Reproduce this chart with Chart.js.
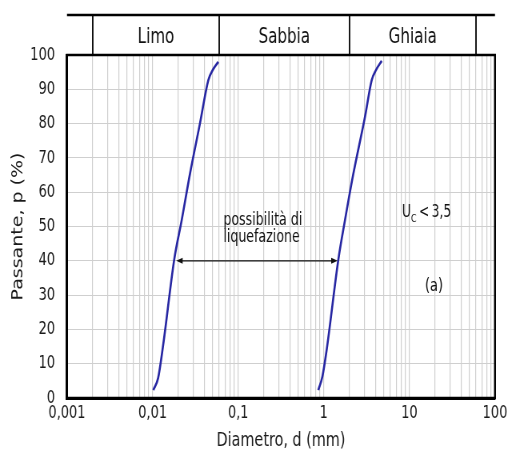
<!DOCTYPE html>
<html><head><meta charset="utf-8">
<script src="https://cdn.jsdelivr.net/npm/chart.js@4.4.1/dist/chart.umd.min.js"></script>
<style>
html,body{margin:0;padding:0;background:#fff;overflow:hidden;width:507px;height:453px}
#c{display:block;width:634px;height:453px;transform:scaleX(0.8);transform-origin:0 0}
</style>
</head><body>
<canvas id="c" width="634" height="453"></canvas>
<script>
// ---- data ----
const curveA_d = [0.0102, 0.0116, 0.0133, 0.0179, 0.0219, 0.0274, 0.0358, 0.0448, 0.0504, 0.0586];
const curveA_p = [2.3, 5.8, 15.5, 40.4, 51.9, 65.5, 80.1, 92.7, 95.6, 98];
const curveB_d = [0.863, 0.962, 1.08, 1.48, 1.77, 2.2, 3.03, 3.63, 4.07, 4.75];
const curveB_p = [2.3, 6.2, 14, 40.4, 51.9, 65, 82, 92.7, 95.6, 98.3];
const arrowD = [0.0189, 1.45];
const arrowP = 40;
const xDecades = [0.001, 0.01, 0.1, 1, 10, 100];
const xLabels = ['0,001', '0,01', '0,1', '1', '10', '100'];
const yTicks = [0, 10, 20, 30, 40, 50, 60, 70, 80, 90, 100];
const classBounds = [0.002, 0.06, 2, 60];
const classNames = ['Limo', 'Sabbia', 'Ghiaia'];
const noteText = ['possibilità di', 'liquefazione'];
const noteAt = [0.067, 49.5];
const ucAt = [8.2, 54];
const tagText = '(a)';
const tagAt = [19.4, 32.7];

const SQ = 0.8; // horizontal squeeze of the whole picture (CSS)
const FONT = "'DejaVu Sans Condensed', 'DejaVu Sans', sans-serif";
const WIDE = "'DejaVu Sans', sans-serif";

const gridValues = [];
for (let k = 0; k < xDecades.length; k++) {
  const d = xDecades[k];
  const n = (k === xDecades.length - 1) ? 1 : 9;
  for (let m = 1; m <= n; m++) gridValues.push(Number((m * d).toPrecision(6)));
}
const toXY = (ds, ps) => ds.map((d, i) => ({ x: d, y: ps[i] }));

const decorations = {
  id: 'decorations',
  afterDraw(chart) {
    const ctx = chart.ctx, xs = chart.scales.x, ys = chart.scales.y, a = chart.chartArea;
    ctx.save();
    // frame
    ctx.strokeStyle = '#000';
    ctx.lineWidth = 2.5;
    ctx.strokeRect(a.left, a.top, a.right - a.left, a.bottom - a.top);
    // header band
    const hTop = 15;
    ctx.beginPath(); ctx.moveTo(a.left, hTop); ctx.lineTo(a.right, hTop); ctx.stroke();
    ctx.lineWidth = 1.8;
    classBounds.forEach(b => {
      const px = xs.getPixelForValue(b);
      ctx.beginPath(); ctx.moveTo(px, hTop); ctx.lineTo(px, a.top); ctx.stroke();
    });
    ctx.fillStyle = '#111';
    ctx.font = "21px " + FONT;
    ctx.textAlign = 'center'; ctx.textBaseline = 'middle';
    classNames.forEach((name, i) => {
      const mid = Math.sqrt(classBounds[i] * classBounds[i + 1]);
      ctx.fillText(name, xs.getPixelForValue(mid), (hTop + a.top) / 2 + 3);
    });
    // arrow
    const y = ys.getPixelForValue(arrowP);
    const x1 = xs.getPixelForValue(arrowD[0]), x2 = xs.getPixelForValue(arrowD[1]);
    ctx.strokeStyle = '#111'; ctx.lineWidth = 1.2;
    ctx.beginPath(); ctx.moveTo(x1 + 5, y); ctx.lineTo(x2 - 5, y); ctx.stroke();
    ctx.fillStyle = '#111';
    ctx.beginPath(); ctx.moveTo(x1, y); ctx.lineTo(x1 + 8, y - 3); ctx.lineTo(x1 + 8, y + 3); ctx.closePath(); ctx.fill();
    ctx.beginPath(); ctx.moveTo(x2, y); ctx.lineTo(x2 - 8, y - 3); ctx.lineTo(x2 - 8, y + 3); ctx.closePath(); ctx.fill();
    // notes
    ctx.font = "17.5px " + FONT;
    ctx.textAlign = 'left'; ctx.textBaseline = 'middle';
    const nx = xs.getPixelForValue(noteAt[0]), ny = ys.getPixelForValue(noteAt[1]);
    ctx.fillText(noteText[0], nx, ny - 8);
    ctx.fillText(noteText[1], nx, ny + 9);
    // Uc < 3,5
    const ux = xs.getPixelForValue(ucAt[0]), uy = ys.getPixelForValue(ucAt[1]);
    ctx.font = "17px " + FONT;
    ctx.fillText('U', ux, uy);
    let w = ctx.measureText('U').width;
    ctx.font = "11px " + FONT;
    ctx.fillText('C', ux + w, uy + 6);
    w += ctx.measureText('C').width;
    ctx.font = "17px " + FONT;
    ctx.fillText('\u2009<\u20093,5', ux + w, uy);
    // (a)
    ctx.textAlign = 'center';
    ctx.font = "18px " + FONT;
    ctx.fillText(tagText, xs.getPixelForValue(tagAt[0]), ys.getPixelForValue(tagAt[1]));
    ctx.restore();
  }
};

const leftW = 67 / SQ;           // y-axis block width (internal px)
const rightPad = 634 - 495 / SQ; // space right of plot (internal px)

new Chart(document.getElementById('c'), {
  type: 'scatter',
  data: {
    datasets: [
      { data: toXY(curveA_d, curveA_p), showLine: true, borderColor: '#2626a2', borderWidth: 2.6, pointRadius: 0, cubicInterpolationMode: 'monotone' },
      { data: toXY(curveB_d, curveB_p), showLine: true, borderColor: '#2626a2', borderWidth: 2.6, pointRadius: 0, cubicInterpolationMode: 'monotone' }
    ]
  },
  options: {
    responsive: false, animation: false, devicePixelRatio: 1,
    layout: { padding: { top: 55, right: rightPad, left: 0, bottom: 0 } },
    plugins: { legend: { display: false }, tooltip: { enabled: false } },
    scales: {
      x: {
        type: 'logarithmic', min: 0.001, max: 100,
        afterBuildTicks: s => { s.ticks = gridValues.map(v => ({ value: v })); },
        afterFit: s => { s.height = 55; s.paddingLeft = 0; s.paddingRight = 0; },
        ticks: {
          autoSkip: false, maxRotation: 0, minRotation: 0, padding: 5, color: '#1a1a1a',
          font: { family: FONT, size: 18 },
          callback: v => { const i = xDecades.findIndex(d => Math.abs(d - v) < d * 1e-6); return i >= 0 ? xLabels[i] : ''; }
        },
        grid: { color: '#cfcfcf', lineWidth: 1.2, drawTicks: false },
        border: { color: '#000', width: 3 },
        title: { display: true, text: 'Diametro, d (mm)', color: '#1a1a1a', font: { family: FONT, size: 20 }, padding: { top: 0, bottom: 0 } }
      },
      y: {
        min: 0, max: 100,
        afterBuildTicks: s => { s.ticks = yTicks.map(v => ({ value: v })); },
        afterFit: s => { s.width = leftW; },
        ticks: { padding: 15, color: '#1a1a1a', font: { family: FONT, size: 18 } },
        grid: { color: '#cfcfcf', lineWidth: 1, drawTicks: false },
        border: { color: '#000', width: 3 },
        title: { display: true, text: 'Passante, p (%)', color: '#1a1a1a', font: { family: WIDE, size: 19 }, padding: { top: 12, bottom: 0 } }
      }
    }
  },
  plugins: [decorations]
});
</script>
</body></html>
